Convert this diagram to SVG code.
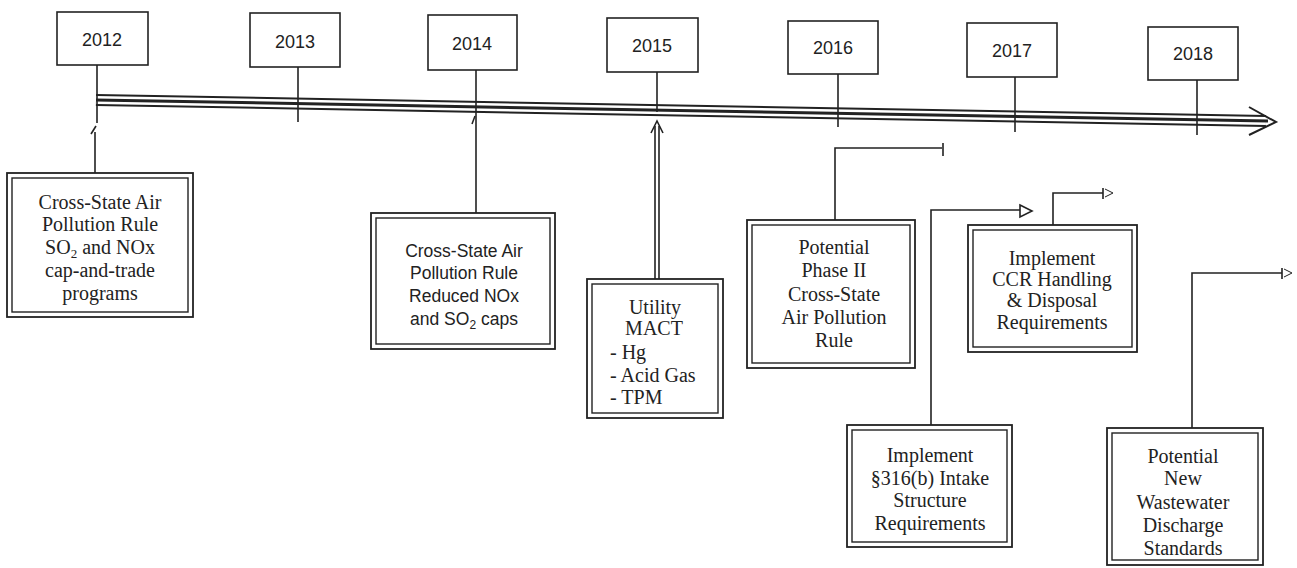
<svg xmlns="http://www.w3.org/2000/svg" width="1297" height="568" viewBox="0 0 1297 568">
<style>
.yb{fill:#fff;stroke:#222;stroke-width:1.6}
.yt{font-family:"Liberation Sans",Arial,sans-serif;font-size:18px;fill:#222;text-anchor:middle}
.ob{fill:#fff;stroke:#222;stroke-width:1.8}
.ib{fill:none;stroke:#222;stroke-width:1.4}
.st{font-family:"Liberation Serif","Times New Roman",serif;font-size:20px;fill:#222;text-anchor:middle}
.sl{font-family:"Liberation Serif","Times New Roman",serif;font-size:20px;fill:#222;text-anchor:start}
.ss{font-family:"Liberation Sans",Arial,sans-serif;font-size:17.5px;fill:#222;text-anchor:middle}
.ln{fill:none;stroke:#222;stroke-width:1.6}
</style>
<rect width="1297" height="568" fill="#fff"/>
<g id="timeline">
<line x1="96" y1="100" x2="1266" y2="121" stroke="#222" stroke-width="12"/>
<line x1="96" y1="100" x2="1266" y2="121" stroke="#fff" stroke-width="8"/>
<line x1="96" y1="100" x2="1268" y2="121" stroke="#222" stroke-width="3"/>
<polyline points="1249,107 1276,122 1249,135" fill="none" stroke="#222" stroke-width="2"/>
</g>
<g id="connectors">
<path class="ln" d="M97,65 V123 M95,132 V173"/>
<path class="ln" d="M91,134 L96,126" stroke-width="1.3"/>
<path class="ln" d="M298,67 V122"/>
<path class="ln" d="M476,70 V213"/>
<path class="ln" d="M472,124 L475,116" stroke-width="1.2"/>
<path class="ln" d="M657,72 V112"/>
<path class="ln" d="M655,126 V279 M659,126 V279" stroke-width="1.4"/>
<polyline class="ln" points="651,133 657,121 663,133" stroke-width="1.4"/>
<path class="ln" d="M838,74 V127"/>
<path class="ln" d="M1015,77 V132"/>
<path class="ln" d="M1197,80 V135"/>
<path class="ln" d="M835,220 V148 H942 M943,143 V156" stroke-width="1.3"/>
<path class="ln" d="M931,425 V210 H1020" stroke-width="1.4"/>
<polygon points="1020,205 1032,211 1020,217" fill="none" stroke="#222" stroke-width="1.6"/>
<path class="ln" d="M1053,225 V193 H1103 M1103,188 V199" stroke-width="1.4"/>
<polyline points="1105,189 1113,193 1105,197" fill="none" stroke="#222" stroke-width="1"/>
<path class="ln" d="M1192,428 V273 H1282 M1282,268 V279" stroke-width="1.4"/>
<polyline points="1284,269 1292,273 1284,277" fill="none" stroke="#222" stroke-width="1"/>
</g>
<g id="y2012"><rect class="yb" x="57" y="12" width="91" height="53"/><text class="yt" x="102" y="46">2012</text></g>
<g id="y2013"><rect class="yb" x="250" y="13" width="90" height="54"/><text class="yt" x="295" y="48">2013</text></g>
<g id="y2014"><rect class="yb" x="428" y="15" width="89" height="55"/><text class="yt" x="472" y="50">2014</text></g>
<g id="y2015"><rect class="yb" x="607" y="18" width="91" height="54"/><text class="yt" x="652" y="52">2015</text></g>
<g id="y2016"><rect class="yb" x="788" y="21" width="90" height="53"/><text class="yt" x="833" y="54">2016</text></g>
<g id="y2017"><rect class="yb" x="967" y="23" width="90" height="54"/><text class="yt" x="1012" y="57">2017</text></g>
<g id="y2018"><rect class="yb" x="1148" y="27" width="90" height="53"/><text class="yt" x="1193" y="60">2018</text></g>
<g id="csapr2012">
<rect class="ob" x="7" y="173" width="186" height="144"/><rect class="ib" x="12" y="178" width="176" height="134"/>
<text class="st" x="100" y="209">Cross-State Air</text>
<text class="st" x="100" y="231">Pollution Rule</text>
<text class="st" x="100" y="254">SO<tspan font-size="13" dy="4">2</tspan><tspan dy="-4"> and NOx</tspan></text>
<text class="st" x="100" y="277">cap-and-trade</text>
<text class="st" x="100" y="300">programs</text>
</g>
<g id="csapr2014">
<rect class="ob" x="371" y="213" width="184" height="136"/><rect class="ib" x="376" y="218" width="174" height="126"/>
<text class="ss" x="464" y="257">Cross-State Air</text>
<text class="ss" x="464" y="279">Pollution Rule</text>
<text class="ss" x="464" y="302">Reduced NOx</text>
<text class="ss" x="464" y="325">and SO<tspan font-size="12" dy="4">2</tspan><tspan dy="-4"> caps</tspan></text>
</g>
<g id="mact">
<rect class="ob" x="587" y="279" width="136" height="139"/><rect class="ib" x="592" y="284" width="126" height="129"/>
<text class="st" x="655" y="314">Utility</text>
<text class="st" x="654" y="335">MACT</text>
<text class="sl" x="610" y="359">- Hg</text>
<text class="sl" x="610" y="382">- Acid Gas</text>
<text class="sl" x="610" y="404">- TPM</text>
</g>
<g id="phase2">
<rect class="ob" x="747" y="220" width="168" height="148"/><rect class="ib" x="752" y="225" width="158" height="138"/>
<text class="st" x="834" y="254">Potential</text>
<text class="st" x="834" y="277">Phase II</text>
<text class="st" x="834" y="301">Cross-State</text>
<text class="st" x="834" y="324">Air Pollution</text>
<text class="st" x="834" y="347">Rule</text>
</g>
<g id="intake">
<rect class="ob" x="847" y="425" width="165" height="122"/><rect class="ib" x="852" y="430" width="155" height="112"/>
<text class="st" x="930" y="462">Implement</text>
<text class="st" x="930" y="485">§316(b) Intake</text>
<text class="st" x="930" y="507">Structure</text>
<text class="st" x="930" y="530">Requirements</text>
</g>
<g id="ccr">
<rect class="ob" x="968" y="225" width="169" height="127"/><rect class="ib" x="973" y="230" width="159" height="117"/>
<text class="st" x="1052" y="265">Implement</text>
<text class="st" x="1052" y="286">CCR Handling</text>
<text class="st" x="1052" y="307">&amp; Disposal</text>
<text class="st" x="1052" y="329">Requirements</text>
</g>
<g id="wastewater">
<rect class="ob" x="1107" y="428" width="156" height="137"/><rect class="ib" x="1112" y="433" width="146" height="127"/>
<text class="st" x="1183" y="463">Potential</text>
<text class="st" x="1183" y="485">New</text>
<text class="st" x="1183" y="509">Wastewater</text>
<text class="st" x="1183" y="532">Discharge</text>
<text class="st" x="1183" y="555">Standards</text>
</g>
</svg>
